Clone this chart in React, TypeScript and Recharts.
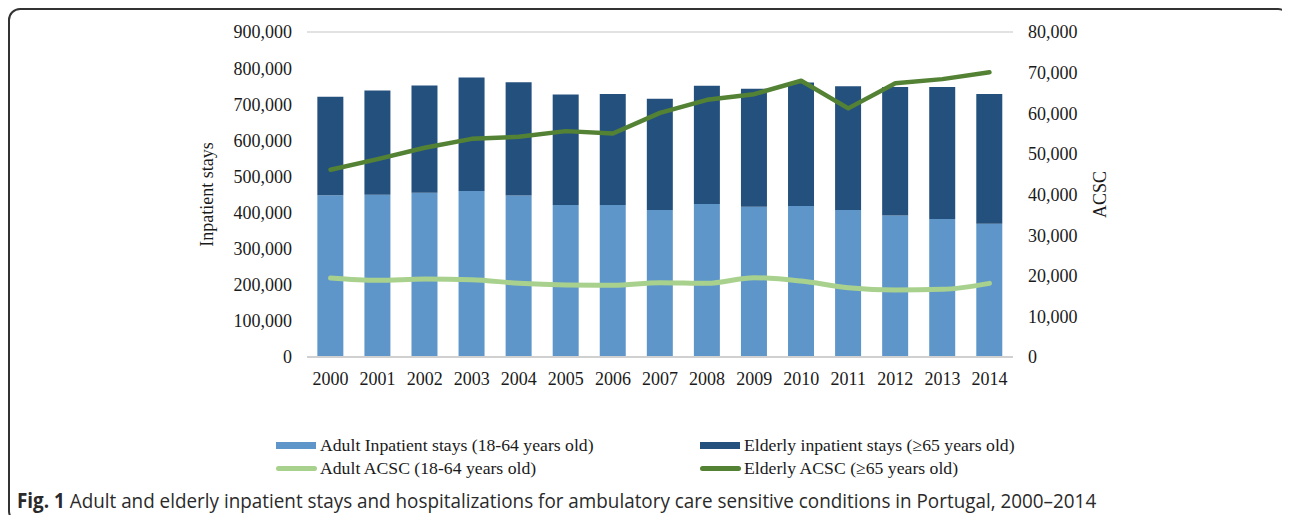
import React from 'react';
import { ComposedChart, Bar, Line, XAxis, YAxis, CartesianGrid, Legend } from 'recharts';

const years = ['2000', '2001', '2002', '2003', '2004', '2005', '2006', '2007', '2008', '2009', '2010', '2011', '2012', '2013', '2014'];

// inpatient stays (left axis)
const adultStays = [448000, 449000, 455000, 460000, 447000, 421000, 421000, 407000, 424000, 416000, 418000, 407000, 392000, 382000, 369000];
const elderlyStays = [273000, 289000, 297000, 314000, 314000, 306000, 307000, 308000, 327000, 327000, 342000, 343000, 356000, 366000, 359000];

// ACSC hospitalizations (right axis)
const adultAcsc = [19450, 18870, 19200, 19040, 18130, 17720, 17640, 18300, 18130, 19530, 18700, 17070, 16490, 16660, 18130];
const elderlyAcsc = [46100, 48700, 51500, 53700, 54200, 55600, 55000, 60100, 63300, 64700, 68000, 61200, 67400, 68400, 70100];

const leftTicks = [0, 100000, 200000, 300000, 400000, 500000, 600000, 700000, 800000, 900000];
const rightTicks = [0, 10000, 20000, 30000, 40000, 50000, 60000, 70000, 80000];

const data = years.map((year, i) => ({
  year,
  adultStays: adultStays[i],
  elderlyStays: elderlyStays[i],
  adultAcsc: adultAcsc[i],
  elderlyAcsc: elderlyAcsc[i],
}));

const serif = '"Liberation Serif", "Times New Roman", serif';
const tickStyle = { fontFamily: serif, fontSize: 18, fill: '#1a1a1a' };
const fmt = (v: number) => v.toLocaleString('en-US');

const legendItems = [
  { label: 'Adult Inpatient stays (18-64 years old)', color: '#5f96ca', kind: 'rect' },
  { label: 'Elderly inpatient stays (\u226565 years old)', color: '#24507d', kind: 'rect' },
  { label: 'Adult ACSC (18-64 years old)', color: '#a9d18e', kind: 'line' },
  { label: 'Elderly ACSC (\u226565 years old)', color: '#548235', kind: 'line' },
];

const ChartLegend = () => (
  <div style={{ display: 'grid', gridTemplateColumns: '424px 424px', fontFamily: serif, fontSize: 17.7, color: '#1a1a1a', lineHeight: '23px' }}>
    {legendItems.map((it) => (
      <div key={it.label} style={{ display: 'flex', alignItems: 'center', whiteSpace: 'nowrap' }}>
        {it.kind === 'rect' ? (
          <span style={{ display: 'inline-block', width: 40, height: 7, background: it.color, marginRight: 4 }} />
        ) : (
          <span style={{ display: 'inline-block', width: 41, height: 5, borderRadius: 3, background: it.color, marginRight: 3 }} />
        )}
        <span>{it.label}</span>
      </div>
    ))}
  </div>
);

export default function App() {
  return (
    <div style={{ position: 'relative', width: 1282, height: 515, marginBottom: -8 }}>
      <ComposedChart
        width={1282}
        height={480}
        data={data}
        margin={{ top: 24, right: 197, left: 219, bottom: 101 }}
        barCategoryGap="22%"
      >
        <CartesianGrid vertical={false} stroke="#d9d9d9" strokeWidth={1.5} />
        <XAxis
          dataKey="year"
          tick={tickStyle}
          tickLine={false}
          tickSize={0}
          tickMargin={15}
          height={30}
          axisLine={{ stroke: '#d0d0d0', strokeWidth: 2 }}
          interval={0}
        />
        <YAxis
          yAxisId="left"
          domain={[0, 900000]}
          ticks={leftTicks}
          tickFormatter={fmt}
          tick={tickStyle}
          tickLine={false}
          axisLine={false}
          tickSize={0}
          tickMargin={15}
          width={80}
          label={{ value: 'Inpatient stays', angle: -90, position: 'insideLeft', offset: -20, style: { textAnchor: 'middle', fontFamily: serif, fontSize: 18, fill: '#1a1a1a' } }}
        />
        <YAxis
          yAxisId="right"
          orientation="right"
          domain={[0, 80000]}
          ticks={rightTicks}
          tickFormatter={fmt}
          tick={tickStyle}
          tickLine={false}
          axisLine={false}
          tickSize={0}
          tickMargin={15}
          width={80}
          label={{ value: 'ACSC', angle: -90, position: 'insideRight', offset: -7, style: { textAnchor: 'middle', fontFamily: serif, fontSize: 18, fill: '#1a1a1a' } }}
        />
        <Legend
          layout="vertical"
          align="center"
          verticalAlign="middle"
          content={() => <ChartLegend />}
          wrapperStyle={{ top: 426, left: 268, width: 860 }}
        />
        <Bar yAxisId="left" dataKey="adultStays" stackId="stays" fill="#5f96ca" isAnimationActive={false} />
        <Bar yAxisId="left" dataKey="elderlyStays" stackId="stays" fill="#24507d" isAnimationActive={false} />
        <Line yAxisId="right" type="monotone" dataKey="adultAcsc" stroke="#a9d18e" strokeWidth={5} strokeLinecap="round" dot={false} isAnimationActive={false} />
        <Line yAxisId="right" type="linear" dataKey="elderlyAcsc" stroke="#548235" strokeWidth={4.5} strokeLinecap="round" strokeLinejoin="round" dot={false} isAnimationActive={false} />
      </ComposedChart>
      <div style={{ position: 'absolute', left: 9, top: 480, fontFamily: '"Open Sans", sans-serif', fontSize: 20.5, lineHeight: '24px', color: '#2a2a2a', whiteSpace: 'nowrap', transform: 'scaleX(0.92)', transformOrigin: 'left center' }}>
        <b>Fig. 1</b> Adult and elderly inpatient stays and hospitalizations for ambulatory care sensitive conditions in Portugal, 2000–2014
      </div>
      <div style={{ position: 'absolute', left: 0, top: 0, width: 1282, height: 515, border: '2px solid #333', borderRadius: 12, boxSizing: 'border-box', pointerEvents: 'none' }} />
    </div>
  );
}
